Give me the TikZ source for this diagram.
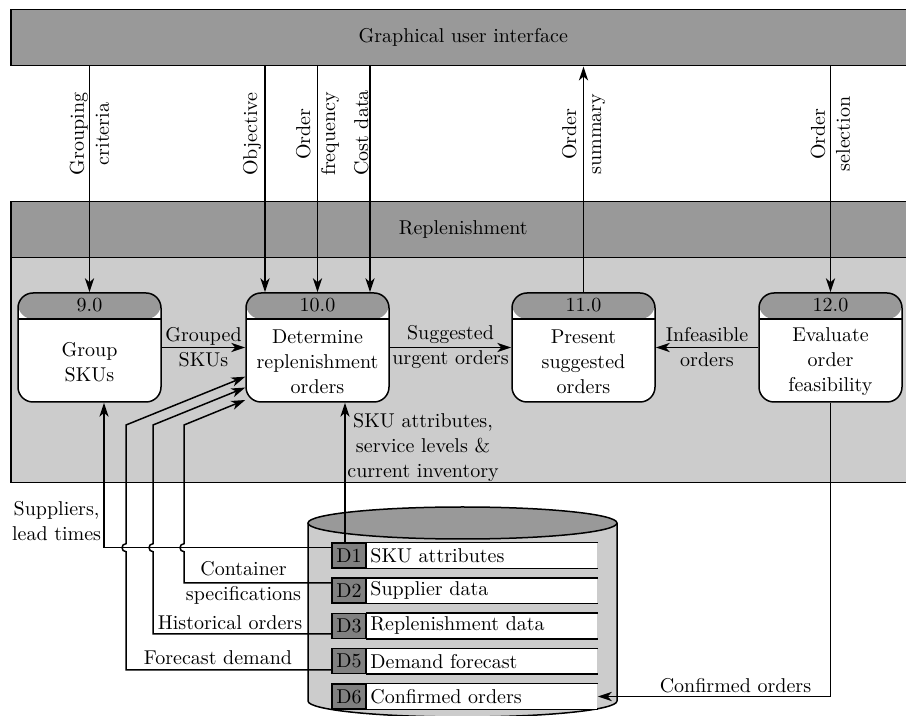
\documentclass[tikz,border=0pt]{standalone}
\usetikzlibrary{arrows.meta}
\begin{document}
\begin{tikzpicture}[x=0.5pt,y=-0.5pt,
  lw/.style={line width=0.75pt},
  bar/.style={lw, draw, fill=black!40, inner sep=0pt},
  arr/.style={lw, -{Stealth[length=7pt,width=4.6pt,inset=2pt]}},
  proc/.style={lw, draw, fill=white, rounded corners=7.5pt, minimum width=71.5pt, minimum height=54.5pt, inner sep=0pt,
     path picture={\fill[black!40] (path picture bounding box.north west) rectangle ([yshift=-13pt]path picture bounding box.north east);
        \draw[lw] ([yshift=-13pt]path picture bounding box.north west) -- ([yshift=-13pt]path picture bounding box.north east);}},
  ptxt/.style={align=center, inner sep=0pt, font=\fontsize{10}{12.5}\selectfont},
  lbl/.style={align=center, inner sep=1pt, font=\fontsize{10}{12.5}\selectfont},
  rlbl/.style={align=center, inner sep=0pt, rotate=90, font=\fontsize{10}{12.5}\selectfont},
  dsid/.style={lw, draw, fill=black!50, minimum width=17pt, minimum height=12.5pt, inner sep=0pt},
  dsname/.style={fill=white, anchor=west, text width=111.5pt, align=left, inner xsep=2pt, inner ysep=0pt, minimum height=12.5pt},
]
\useasboundingbox (0,0) rectangle (906,716);

% bars
\node[bar, minimum width=452.5pt, minimum height=28pt, anchor=north west] (gui) at (10,9) {Graphical user interface};
\node[lw, draw, fill=black!20, minimum width=452.5pt, minimum height=112.5pt, anchor=north west, inner sep=0pt] (area) at (10,257) {};
\node[bar, minimum width=452.5pt, minimum height=28pt, anchor=north west] (rep) at (10,201) {Replenishment};

% processes
\node[proc] (p9) at (89.5,347.5) {};
\node[proc] (p10) at (317.5,347.5) {};
\node[proc] (p11) at (583.5,347.5) {};
\node[proc] (p12) at (830.5,347.5) {};
\node[ptxt] (p9h) at ([yshift=-6.5pt]p9.north) {9.0};
\node[ptxt] (p10h) at ([yshift=-6.5pt]p10.north) {10.0};
\node[ptxt] (p11h) at ([yshift=-6.5pt]p11.north) {11.0};
\node[ptxt] (p12h) at ([yshift=-6.5pt]p12.north) {12.0};
\node[ptxt] (p9b) at ([yshift=-7.5pt]p9.center) {Group\\SKUs};
\node[ptxt] (p10b) at ([yshift=-7pt]p10.center) {Determine\\replenishment\\orders};
\node[ptxt] (p11b) at ([yshift=-7pt]p11.center) {Present\\suggested\\orders};
\node[ptxt] (p12b) at ([yshift=-7pt]p12.center) {Evaluate\\order\\feasibility};

% top flows
\coordinate (obj) at ([xshift=-26.25pt]p10.north);
\coordinate (cost) at ([xshift=26.25pt]p10.north);
\draw[arr] (p9.north |- gui.south) -- (p9.north);
\draw[arr] (obj |- gui.south) -- (obj);
\draw[arr] (p10.north |- gui.south) -- (p10.north);
\draw[arr] (cost |- gui.south) -- (cost);
\draw[arr] (p11.north) -- (p11.north |- gui.south);
\draw[arr] (p12.north |- gui.south) -- (p12.north);
\node[rlbl] (l1) at (89.5,134) {Grouping\\criteria};
\node[rlbl, anchor=base] (l2) at (257,134) {Objective};
\node[rlbl] (l3) at (317.5,134) {Order\\frequency};
\node[rlbl, anchor=base] (l4) at (368,133) {Cost data};
\node[rlbl] (l5) at (583.5,134) {Order\\summary};
\node[rlbl] (l6) at (830.5,134) {Order\\selection};

% horizontal flows
\draw[arr] (p9.east) -- (p10.west) node[lbl, midway] (l7) {Grouped\\SKUs};
\draw[arr] (p10.east) -- (p11.west) node[lbl, midway] (l8) {Suggested\\urgent orders};
\draw[arr] (p12.west) -- (p11.east) node[lbl, midway] (l9) {Infeasible\\orders};

% data store
\draw[lw, fill=black!20] (308,523) -- (308,701) arc[start angle=180, end angle=360, x radius=77.25pt, y radius=8pt] -- (617,523);
\draw[lw, fill=black!40] (462.5,523) ellipse [x radius=77.25pt, y radius=8pt];

\node[dsname] (d1) at (366,555.5) {SKU attributes};
\node[dsname] (d2) at (366,590.75) {Supplier data};
\node[dsname] (d3) at (366,626) {Replenishment data};
\node[dsname] (d5) at (366,661.25) {Demand forecast};
\node[dsname] (d6) at (366,696.5) {Confirmed orders};
\foreach \d in {d1,d2,d3,d5,d6}{
  \draw[lw] (\d.north west) -- (\d.north east) (\d.south west) -- (\d.south east);
}
\node[dsid] (d1id) at (349,555.5) {D1};
\node[dsid] (d2id) at (349,590.75) {D2};
\node[dsid] (d3id) at (349,626) {D3};
\node[dsid] (d5id) at (349,661.25) {D5};
\node[dsid] (d6id) at (349,696.5) {D6};

% flows from the data store
\coordinate (sku) at ([xshift=-2pt]d1id.north);
\draw[arr] (sku) -- (sku |- p10.south);
\node[lbl, anchor=north west, inner sep=0pt] (l10) at (347,413) {SKU attributes,\\service levels \&\\current inventory};

\coordinate (sup) at ([xshift=7.25pt]p9.south);
\draw[arr] ([yshift=3.9pt]d1id.west) -| (sup);
\node[lbl, anchor=east, inner sep=0pt] (l11) at (101.5,521) {Suppliers,\\lead times};

\draw[arr] ([yshift=-4.375pt]d5id.west) -| (126,551.7) arc[start angle=270, end angle=90, radius=2pt] -- (126,425) -- (p10.202);
\draw[arr] ([yshift=-4pt]d3id.west) -| (153,551.7) arc[start angle=270, end angle=90, radius=2pt] -- (153,425) -- (p10.209);
\draw[arr] ([yshift=3.875pt]d2id.west) -| (184,551.7) arc[start angle=270, end angle=90, radius=2pt] -- (184,425) -- (p10.216);

\node[lbl] (l12) at (243.5,583) {Container\\specifications};
\node[lbl, anchor=base] (l13) at (230,630) {Historical orders};
\node[lbl, anchor=base] (l14) at (218,665) {Forecast demand};

\draw[arr] (p12.south) |- (d6.east);
\node[lbl, anchor=base] (l15) at (735.5,693) {Confirmed orders};
\end{tikzpicture}
\end{document}
